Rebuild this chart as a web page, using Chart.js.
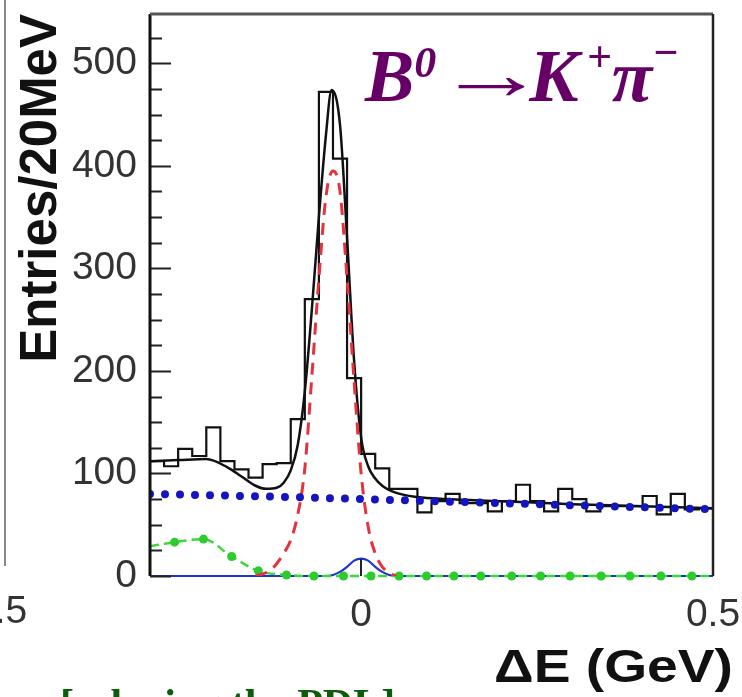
<!DOCTYPE html>
<html>
<head>
<meta charset="utf-8">
<script src="https://cdn.jsdelivr.net/npm/chart.js@4.4.1/dist/chart.umd.min.js"></script>
<style>
  html, body { margin: 0; padding: 0; background: #fff; }
  #wrap { position: relative; width: 742px; height: 697px; overflow: hidden; background: #fff; }
  #c { position: absolute; left: 0; top: 0; }
  #decay { position: absolute; left: 365px; top: 34px; color: #660066; line-height: 1; white-space: nowrap;
           font: italic bold 74px "Liberation Serif", "DejaVu Serif", serif; }
  #decay .sup { position: relative; font-size: 44px; }
  #decay .arrow { display: inline-block; width: 93px; font-style: normal; font-weight: normal;
                  position: relative; top: -2px; }
  #decay .arrow span { display: inline-block; transform: scaleX(1.5); transform-origin: left center; }
  #prevFrame { position: absolute; left: 4px; top: 0; height: 566px; border-left: 2px solid #888; }
  #prevLabel { position: absolute; left: -27px; top: 588px; line-height: 1; color: #333;
               font: 39px "Liberation Sans", Arial, sans-serif; }
  #note { position: absolute; left: 60px; top: 680px; line-height: 1; color: #0b5d0b; white-space: nowrap;
          font: bold 42px "Liberation Serif", serif; }
</style>
</head>
<body>
<div id="wrap">
  <canvas id="c" width="742" height="697"></canvas>
  <div id="prevFrame"></div>
  <div id="prevLabel">0.5</div>
  <div id="decay">B<span class="sup" style="top:-24px">0</span><span class="arrow"><span>→</span></span>K<span class="sup" style="top:-30px; margin-left:8px">+</span>π<span class="sup" style="top:-34px">−</span></div>
  <div id="note">[relaxing the PDL]</div>
</div>
<script>
// ---- ΔE histogram, 20 MeV bins from -0.3 to 0.5 GeV ----
const binStart = -0.30;
const binWidth = 0.02;
const counts = [112, 107, 124, 117, 145, 112, 104, 96, 109, 110,
                153, 270, 472, 407, 193, 119, 105, 85, 85, 62,
                73, 80, 71, 71, 63, 73, 89, 73, 63, 85,
                75, 63, 68, 68, 68, 78, 60, 80, 65, 66];

// total fit (black solid)
const fitX = [-0.30, -0.26, -0.22, -0.19, -0.17, -0.15, -0.135, -0.12, -0.11, -0.10,
              -0.09, -0.08, -0.07, -0.06, -0.05, -0.042, -0.03, -0.02, -0.01, 0.00,
              0.01, 0.02, 0.03, 0.05, 0.08, 0.12, 0.20, 0.30, 0.40, 0.50];
const fitY = [112, 113, 114, 106, 97, 88, 85, 86, 91, 103,
              128, 180, 260, 350, 430, 474, 440, 330, 210, 135,
              107, 95, 88, 81, 77, 75, 73, 70, 68, 66];

// signal (red dashed)
const sigX = [-0.15, -0.13, -0.12, -0.11, -0.10, -0.09, -0.08, -0.07, -0.06, -0.05,
              -0.04, -0.03, -0.02, -0.01, 0.00, 0.01, 0.02, 0.03, 0.04, 0.05];
const sigY = [0, 5, 12, 22, 35, 60, 105, 195, 290, 370,
              395, 375, 290, 190, 100, 48, 22, 9, 3, 0];

// continuum background (blue dotted)
const bgX = [-0.30, -0.10, 0.10, 0.30, 0.50];
const bgY = [80, 77, 73, 69, 65];

// rare B background (green, with markers)
const rareX = [-0.30, -0.265, -0.224, -0.184, -0.146, -0.106, -0.067, -0.025, 0.014, 0.054,
               0.093, 0.132, 0.170, 0.214, 0.255, 0.297, 0.341, 0.382, 0.426, 0.470, 0.50];
const rareY = [29, 33, 36, 19, 5, 1, 0, 0, 0, 0,
               0, 0, 0, 0, 0, 0, 0, 0, 0, 0, 0];

// K <-> pi misID feed-across (blue solid)
const feedX = [-0.30, -0.05, -0.04, -0.03, -0.02, -0.01, 0.00, 0.01, 0.02, 0.03, 0.04, 0.05, 0.50];
const feedY = [0, 0, 1, 4, 9, 15, 17, 15, 9, 4, 1, 0, 0];

const xTicks = [0, 0.5];
const yTicks = [0, 100, 200, 300, 400, 500];
const yMinorStep = 25;

const pts = (xs, ys) => xs.map((x, i) => ({ x: x, y: ys[i] }));
const histPts = counts.map((c, i) => ({ x: binStart + i * binWidth, y: c }));
histPts.push({ x: binStart + counts.length * binWidth, y: counts[counts.length - 1] });

// no automatic label overhang padding, the plot frame is pinned
function pinPadding(s) {
  s.paddingLeft = 0; s.paddingRight = 0; s.paddingTop = 0; s.paddingBottom = 0;
}

const frameAndTicks = {
  id: 'frameAndTicks',
  afterDatasetsDraw(chart) {
    const { ctx, chartArea: a, scales: { x, y } } = chart;
    ctx.save();
    ctx.strokeStyle = '#222';
    ctx.lineWidth = 2;
    ctx.beginPath();
    for (let v = 0; v <= y.max; v += yMinorStep) {
      const py = Math.round(y.getPixelForValue(v)) + 0.5;
      const len = v % 100 === 0 ? 21 : 12;
      ctx.moveTo(a.left, py);
      ctx.lineTo(a.left + len, py);
    }
    xTicks.forEach(v => {
      const px = Math.round(x.getPixelForValue(v));
      ctx.moveTo(px, a.bottom);
      ctx.lineTo(px, a.bottom - 17);
    });
    ctx.stroke();
    // frame
    ctx.lineWidth = 3;
    ctx.strokeStyle = '#111';
    ctx.beginPath();
    ctx.moveTo(a.left, a.bottom);
    ctx.lineTo(a.left, a.top);
    ctx.stroke();
    ctx.strokeStyle = '#555';
    ctx.beginPath();
    ctx.moveTo(a.left, a.top);
    ctx.lineTo(a.right, a.top);
    ctx.stroke();
    ctx.strokeStyle = '#222';
    ctx.lineWidth = 2.5;
    ctx.beginPath();
    ctx.moveTo(a.right, a.top);
    ctx.lineTo(a.right, a.bottom);
    ctx.stroke();
    // x axis title, a bit wide and sticking out past the frame like in the original
    ctx.fillStyle = '#111';
    ctx.font = 'bold 46px "Liberation Sans", Arial, sans-serif';
    ctx.textAlign = 'right';
    ctx.textBaseline = 'alphabetic';
    ctx.translate(a.right + 20, a.bottom + 106);
    ctx.scale(1.2, 1);
    ctx.fillText('ΔE (GeV)', 0, 0);
    ctx.restore();
  }
};

new Chart(document.getElementById('c'), {
  type: 'line',
  data: {
    datasets: [
      { label: 'continuum', data: pts(bgX, bgY), borderColor: '#1414c0', borderWidth: 8,
        borderDash: [0, 15], borderCapStyle: 'round', pointRadius: 0, tension: 0 },
      { label: 'signal', data: pts(sigX, sigY), borderColor: '#e5323c', borderWidth: 3,
        borderDash: [12, 8], pointRadius: 0, cubicInterpolationMode: 'monotone' },
      { label: 'data', data: histPts, borderColor: '#111', borderWidth: 2.2,
        stepped: true, pointRadius: 0 },
      { label: 'fit', data: pts(fitX, fitY), borderColor: '#111', borderWidth: 2.5,
        pointRadius: 0, cubicInterpolationMode: 'monotone' },
      { label: 'rare B', data: pts(rareX, rareY), borderColor: '#3ad83a', borderWidth: 2.5,
        borderDash: [9, 5], backgroundColor: '#2bcc2b', pointBorderWidth: 0,
        pointRadius: ctx => (ctx.dataIndex === 0 || ctx.dataIndex === rareX.length - 1) ? 0 : 4.5,
        cubicInterpolationMode: 'monotone', clip: false },
      { label: 'feed-across', data: pts(feedX, feedY), borderColor: '#2233cc', borderWidth: 2.2,
        pointRadius: 0, cubicInterpolationMode: 'monotone', clip: false }
    ]
  },
  options: {
    responsive: false,
    animation: false,
    devicePixelRatio: 1,
    layout: { padding: { left: 0, right: 29, top: 14, bottom: 0 } },
    plugins: { legend: { display: false }, tooltip: { enabled: false } },
    scales: {
      x: {
        type: 'linear', min: -0.3, max: 0.5,
        afterBuildTicks: s => { s.ticks = xTicks.map(v => ({ value: v })); },
        afterFit: s => { s.height = 121; pinPadding(s); },
        grid: { display: false, drawTicks: false }, border: { display: false },
        ticks: { padding: 16, color: '#333', font: { family: 'Liberation Sans', size: 39 },
                 callback: v => String(v) }
      },
      y: {
        min: 0, max: 548,
        afterBuildTicks: s => { s.ticks = yTicks.map(v => ({ value: v })); },
        afterFit: s => { s.width = 150; pinPadding(s); },
        grid: { display: false, drawTicks: false }, border: { display: false },
        ticks: { padding: 13, color: '#333', font: { family: 'Liberation Sans', size: 39 } },
        title: { display: true, text: 'Entries/20MeV', align: 'end', color: '#111',
                 padding: { top: 11, bottom: 0 },
                 font: { family: 'Liberation Sans', size: 51, weight: 'bold' } }
      }
    }
  },
  plugins: [frameAndTicks]
});
</script>
</body>
</html>
